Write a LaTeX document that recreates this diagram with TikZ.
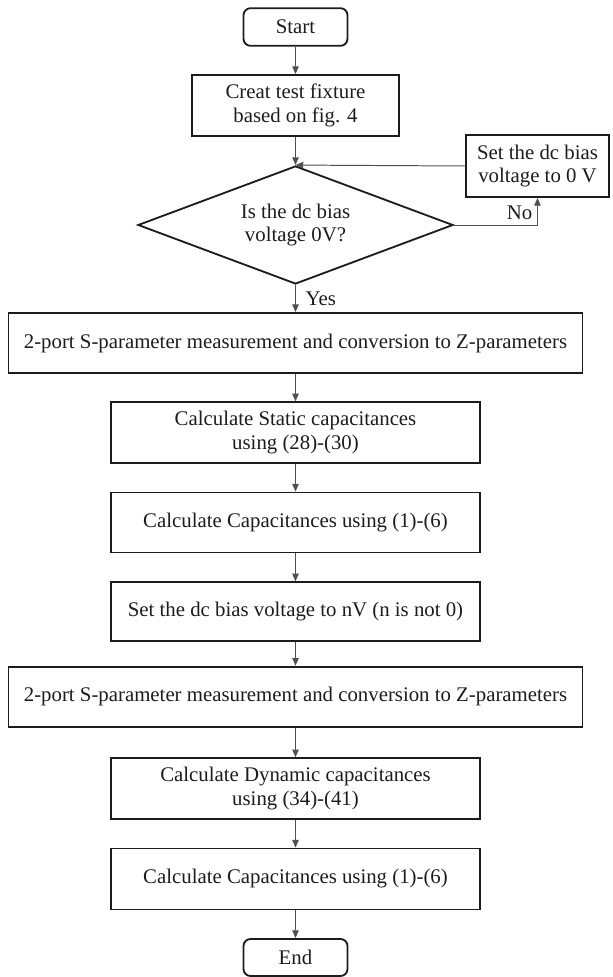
\documentclass[tikz,border=0pt]{standalone}
\usepackage{fontspec}
\setmainfont{Liberation Serif}
\usetikzlibrary{arrows.meta,shapes.geometric}
\definecolor{ink}{HTML}{1C1C1C}
\definecolor{wire}{HTML}{505050}
\tikzset{>={Triangle[length=5.5pt,width=4.6pt]},
  every node/.style={font=\fontsize{14.8pt}{17pt}\selectfont,text=ink},
  stepbox/.style={draw=ink,line width=1.3pt,align=center,minimum height=1.5cm,inner sep=0pt},
  termbox/.style={stepbox,rounded corners=5pt,minimum width=2.6cm,minimum height=.94cm},
  decbox/.style={draw=ink,line width=1.3pt,diamond,aspect=2.67,align=center,inner sep=0pt,
    minimum width=7.875cm,minimum height=2.95cm},
  flow/.style={->,draw=wire,line width=.7pt}}
\begin{document}
\begin{tikzpicture}[x=.025cm,y=-.025cm]
\useasboundingbox(0,0)rectangle(612,977);
\node[termbox](start)at(295.5,27){Start};
\node[stepbox,minimum width=5.175cm,minimum height=1.525cm](fixture)at(295.5,105.5){Creat test fixture\\based on fig. 4};
\node[decbox](check)at(295.5,225){Is the dc bias\\voltage 0V?};
\node[stepbox,minimum width=3.575cm,minimum height=1.55cm](setzero)at(537.5,166){Set the dc bias\\voltage to 0 V};
\node[stepbox,minimum width=14.35cm](sparamA)at(295.5,343){2-port S-parameter measurement and conversion to Z-parameters};
\node[stepbox,minimum width=9.225cm,minimum height=1.525cm](static)at(295.5,432.8){Calculate Static capacitances\\using (28)-(30)};
\node[stepbox,minimum width=9.225cm](capA)at(295.5,522.5){Calculate Capacitances using (1)-(6)};
\node[stepbox,minimum width=9.225cm,minimum height=1.475cm](setn)at(295.5,611.8){Set the dc bias voltage to nV (n is not 0)};
\node[stepbox,minimum width=14.35cm](sparamB)at(295.5,696.7){2-port S-parameter measurement and conversion to Z-parameters};
\node[stepbox,minimum width=9.225cm,minimum height=1.525cm](dynamic)at(295.5,788.7){Calculate Dynamic capacitances\\using (34)-(41)};
\node[stepbox,minimum width=9.225cm,minimum height=1.525cm](capB)at(295.5,879){Calculate Capacitances using (1)-(6)};
\node[termbox,minimum height=.925cm](end)at(295.5,957.5){End};
% main flow
\draw[flow](start)--(fixture);\draw[flow](fixture)--(check);
\draw[flow](check)--node[right=3.5pt]{Yes}(sparamA);
\foreach \a/\b in {sparamA/static,static/capA,capA/setn,setn/sparamB,sparamB/dynamic,dynamic/capB,capB/end}{\draw[flow](\a)--(\b);}
% loop back
\draw[flow](check.east)-|node[above left]{No}(setzero.south);\draw[flow](setzero.west)--(check.north);
\end{tikzpicture}
\end{document}
